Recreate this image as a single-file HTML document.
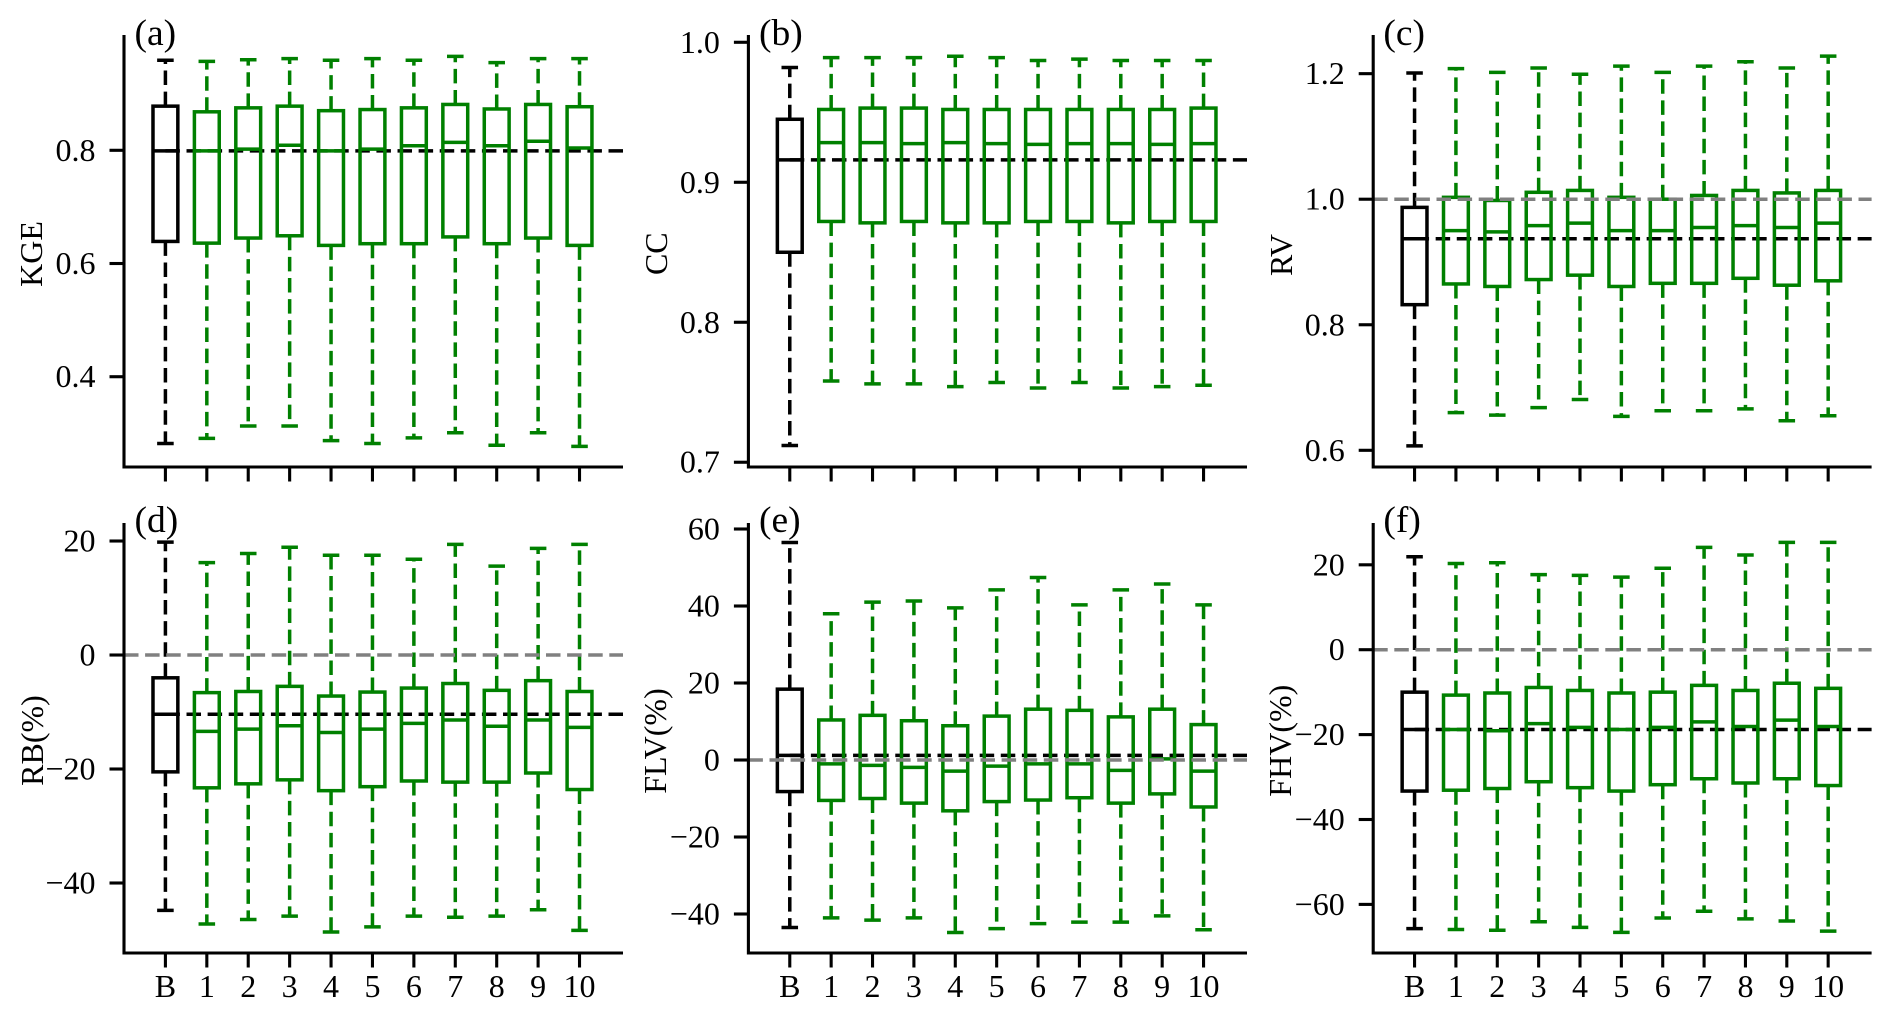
<!DOCTYPE html>
<html lang="en">
<head>
<meta charset="utf-8">
<title>Box plots of KGE, CC, RV, RB, FLV and FHV</title>
<style>
  html, body { margin: 0; padding: 0; background: #fff; }
  svg { display: block; font-family: "Liberation Serif", "Times New Roman", serif; fill: #000; filter: blur(0.35px); }
</style>
</head>
<body>
<svg id="chart" xmlns="http://www.w3.org/2000/svg" width="1892" height="1018" viewBox="0 0 1892 1018">
  <rect x="0" y="0" width="1892" height="1018" fill="#ffffff"></rect>
</svg>
<script>
// Shared x categories
const categories = ['B', '1', '2', '3', '4', '5', '6', '7', '8', '9', '10'];

// (a) KGE
const kgeHigh = [0.959, 0.957, 0.960, 0.962, 0.959, 0.962, 0.959, 0.966, 0.955, 0.962, 0.962];
const kgeQ3 = [0.878, 0.868, 0.875, 0.878, 0.870, 0.872, 0.875, 0.881, 0.873, 0.881, 0.877];
const kgeMedian = [0.799, 0.799, 0.802, 0.809, 0.799, 0.802, 0.808, 0.814, 0.808, 0.816, 0.804];
const kgeQ1 = [0.639, 0.636, 0.645, 0.649, 0.632, 0.635, 0.635, 0.647, 0.635, 0.645, 0.632];
const kgeLow = [0.282, 0.291, 0.313, 0.313, 0.287, 0.282, 0.292, 0.301, 0.279, 0.301, 0.277];
const kgeTicks = [0.8, 0.6, 0.4];
const kgeTickLabels = ['0.8', '0.6', '0.4'];

// (b) CC
const ccHigh = [0.982, 0.989, 0.989, 0.989, 0.990, 0.989, 0.987, 0.988, 0.987, 0.987, 0.987];
const ccQ3 = [0.945, 0.952, 0.953, 0.953, 0.952, 0.952, 0.952, 0.952, 0.952, 0.952, 0.953];
const ccMedian = [0.916, 0.9283, 0.9283, 0.9276, 0.9283, 0.9276, 0.9271, 0.9276, 0.9276, 0.9271, 0.9276];
const ccQ1 = [0.850, 0.872, 0.871, 0.872, 0.871, 0.871, 0.872, 0.872, 0.871, 0.872, 0.872];
const ccLow = [0.712, 0.758, 0.756, 0.756, 0.754, 0.757, 0.753, 0.757, 0.753, 0.754, 0.755];
const ccTicks = [1.0, 0.9, 0.8, 0.7];
const ccTickLabels = ['1.0', '0.9', '0.8', '0.7'];

// (c) RV
const rvHigh = [1.201, 1.208, 1.202, 1.209, 1.199, 1.212, 1.202, 1.212, 1.219, 1.209, 1.228];
const rvQ3 = [0.987, 1.003, 0.998, 1.011, 1.014, 1.003, 1.000, 1.006, 1.014, 1.010, 1.014];
const rvMedian = [0.937, 0.950, 0.948, 0.958, 0.962, 0.950, 0.950, 0.955, 0.958, 0.955, 0.962];
const rvQ1 = [0.832, 0.865, 0.861, 0.872, 0.879, 0.861, 0.866, 0.866, 0.874, 0.863, 0.870];
const rvLow = [0.607, 0.660, 0.656, 0.668, 0.681, 0.654, 0.663, 0.663, 0.666, 0.647, 0.655];
const rvTicks = [1.2, 1.0, 0.8, 0.6];
const rvTickLabels = ['1.2', '1.0', '0.8', '0.6'];

// (d) RB(%)
const rbHigh = [19.8, 16.2, 17.8, 18.9, 17.5, 17.5, 16.8, 19.4, 15.6, 18.7, 19.4];
const rbQ3 = [-4.0, -6.6, -6.4, -5.5, -7.2, -6.5, -5.8, -5.0, -6.2, -4.5, -6.4];
const rbMedian = [-10.4, -13.4, -13.0, -12.4, -13.6, -13.0, -12.0, -11.4, -12.5, -11.4, -12.7];
const rbQ1 = [-20.5, -23.3, -22.6, -21.9, -23.8, -23.1, -22.1, -22.3, -22.3, -20.7, -23.6];
const rbLow = [-44.8, -47.2, -46.4, -45.8, -48.6, -47.7, -45.8, -46.0, -45.8, -44.7, -48.3];
const rbTicks = [20, 0, -20, -40];
const rbTickLabels = ['20', '0', '\u221220', '\u221240'];

// (e) FLV(%)
const flvHigh = [56.5, 38.0, 41.0, 41.3, 39.5, 44.2, 47.4, 40.3, 44.2, 45.7, 40.3];
const flvQ3 = [18.4, 10.4, 11.6, 10.2, 8.9, 11.4, 13.2, 12.9, 11.2, 13.2, 9.2];
const flvMedian = [1.2, -1.0, -1.4, -1.9, -2.9, -1.6, -1.0, -1.0, -2.7, 0.3, -2.9];
const flvQ1 = [-8.2, -10.5, -10.0, -11.2, -13.2, -10.8, -10.4, -9.8, -11.2, -8.8, -12.2];
const flvLow = [-43.5, -41.0, -41.6, -41.0, -44.8, -43.8, -42.5, -42.1, -42.1, -40.5, -44.1];
const flvTicks = [60, 40, 20, 0, -20, -40];
const flvTickLabels = ['60', '40', '20', '0', '\u221220', '\u221240'];

// (f) FHV(%)
const fhvHigh = [21.9, 20.3, 20.5, 17.7, 17.5, 17.1, 19.2, 24.1, 22.3, 25.3, 25.3];
const fhvQ3 = [-10.0, -10.7, -10.2, -8.9, -9.6, -10.2, -10.0, -8.4, -9.6, -7.9, -9.1];
const fhvMedian = [-18.8, -18.8, -19.1, -17.4, -18.3, -18.8, -18.3, -17.0, -18.1, -16.6, -18.1];
const fhvQ1 = [-33.3, -33.1, -32.7, -31.1, -32.5, -33.3, -31.8, -30.4, -31.4, -30.4, -32.0];
const fhvLow = [-65.7, -65.9, -66.1, -64.1, -65.4, -66.6, -63.2, -61.6, -63.4, -63.9, -66.3];
const fhvTicks = [20, 0, -20, -40, -60];
const fhvTickLabels = ['20', '0', '\u221220', '\u221240', '\u221260'];

// Panel layout (frame in pixels, y limits in data units)
const panels = [
  { id: 'kge', letter: '(a)', title: 'KGE', high: kgeHigh, q3: kgeQ3, median: kgeMedian, q1: kgeQ1, low: kgeLow, ticks: kgeTicks, tickLabels: kgeTickLabels,
    left: 124, right: 623, top: 35, bottom: 467, ylim: [0.2405, 1.0037], ref: null, labelX: 42, labelY: 254, letterX: 134.5, letterY: 45, showX: false },
  { id: 'cc', letter: '(b)', title: 'CC', high: ccHigh, q3: ccQ3, median: ccMedian, q1: ccQ1, low: ccLow, ticks: ccTicks, tickLabels: ccTickLabels,
    left: 748.4, right: 1247, top: 35, bottom: 467, ylim: [0.6966, 1.0052], ref: null, labelX: 667, labelY: 253.7, letterX: 759, letterY: 45, showX: false },
  { id: 'rv', letter: '(c)', title: 'RV', high: rvHigh, q3: rvQ3, median: rvMedian, q1: rvQ1, low: rvLow, ticks: rvTicks, tickLabels: rvTickLabels,
    left: 1373.2, right: 1871.6, top: 35, bottom: 467, ylim: [0.5734, 1.2616], ref: 1, labelX: 1292, labelY: 255, letterX: 1383.4, letterY: 45, showX: false },
  { id: 'rb', letter: '(d)', title: 'RB(%)', high: rbHigh, q3: rbQ3, median: rbMedian, q1: rbQ1, low: rbLow, ticks: rbTicks, tickLabels: rbTickLabels,
    left: 124, right: 623, top: 523, bottom: 953, ylim: [-52.28, 23.16], ref: 0, labelX: 43, labelY: 740.5, letterX: 134.5, letterY: 532, showX: true },
  { id: 'flv', letter: '(e)', title: 'FLV(%)', high: flvHigh, q3: flvQ3, median: flvMedian, q1: flvQ1, low: flvLow, ticks: flvTicks, tickLabels: flvTickLabels,
    left: 748.4, right: 1247, top: 523, bottom: 953, ylim: [-50.13, 61.56], ref: 0, labelX: 666, labelY: 741, letterX: 759, letterY: 532, showX: true },
  { id: 'fhv', letter: '(f)', title: 'FHV(%)', high: fhvHigh, q3: fhvQ3, median: fhvMedian, q1: fhvQ1, low: fhvLow, ticks: fhvTicks, tickLabels: fhvTickLabels,
    left: 1373.2, right: 1871.6, top: 523, bottom: 953, ylim: [-71.45, 29.85], ref: 0, labelX: 1291, labelY: 740.7, letterX: 1383.4, letterY: 532, showX: true }
];

const NS = 'http://www.w3.org/2000/svg';
const root = document.getElementById('chart');
const GREEN = '#008000';
const BLACK = '#000000';
const GRAY = '#808080';
const XMAX_UNITS = 12.05;
const STROKE = 3.5;
const AXIS_STROKE = 3.1;
const TICK_LEN = 14.5;
const BOX_WIDTH = 0.6;
const CAP_WIDTH = 0.4;
const DASH = '14.5 6.6';
const TEXT_SIZE = 32;

function makeXScale(p) {
  const unit = (p.right - p.left) / XMAX_UNITS;
  return function (pos) { return p.left + pos * unit; };
}
function makeYScale(p) {
  const span = p.ylim[1] - p.ylim[0];
  return function (v) { return p.bottom - (v - p.ylim[0]) / span * (p.bottom - p.top); };
}
function makeLine(parent, x1, y1, x2, y2, color, width, dash) {
  const l = document.createElementNS(NS, 'line');
  l.setAttribute('x1', x1);
  l.setAttribute('y1', y1);
  l.setAttribute('x2', x2);
  l.setAttribute('y2', y2);
  l.setAttribute('stroke', color);
  l.setAttribute('stroke-width', width);
  if (dash) l.setAttribute('stroke-dasharray', dash);
  parent.appendChild(l);
  return l;
}
function makeText(parent, x, y, str, size, anchor) {
  const t = document.createElementNS(NS, 'text');
  t.setAttribute('x', x);
  t.setAttribute('y', y);
  t.setAttribute('font-size', size);
  t.setAttribute('text-anchor', anchor);
  t.textContent = str;
  parent.appendChild(t);
  return t;
}

panels.forEach(function (p) {
  const x = makeXScale(p);
  const y = makeYScale(p);
  const unit = x(1) - x(0);

  const g = document.createElementNS(NS, 'g');
  
  
  root.appendChild(g);

  // Benchmark median reference line, drawn beneath the boxes
  const medianLine = makeLine(g, x(1), y(p.median[0]), p.right, y(p.median[0]), BLACK, STROKE, DASH);
  
  

  // Boxes and whiskers
  categories.forEach(function (cat, i) {
    const color = i === 0 ? BLACK : GREEN;
    const cx = x(i + 1);

    const box = document.createElementNS(NS, 'g');
    
    
    g.appendChild(box);

    const upper = makeLine(box, cx, y(p.q3[i]), cx, y(p.high[i]), color, STROKE, DASH);
    
    

    const lower = makeLine(box, cx, y(p.q1[i]), cx, y(p.low[i]), color, STROKE, DASH);
    
    

    const capHigh = makeLine(box, cx - CAP_WIDTH * unit / 2, y(p.high[i]), cx + CAP_WIDTH * unit / 2, y(p.high[i]), color, STROKE);
    
    

    const capLow = makeLine(box, cx - CAP_WIDTH * unit / 2, y(p.low[i]), cx + CAP_WIDTH * unit / 2, y(p.low[i]), color, STROKE);
    
    

    const rect = document.createElementNS(NS, 'rect');
    rect.setAttribute('x', cx - BOX_WIDTH * unit / 2);
    rect.setAttribute('y', y(p.q3[i]));
    rect.setAttribute('width', BOX_WIDTH * unit);
    rect.setAttribute('height', y(p.q1[i]) - y(p.q3[i]));
    rect.setAttribute('fill', 'none');
    rect.setAttribute('stroke', color);
    rect.setAttribute('stroke-width', STROKE);
    
    
    box.appendChild(rect);

    const med = makeLine(box, cx - BOX_WIDTH * unit / 2, y(p.median[i]), cx + BOX_WIDTH * unit / 2, y(p.median[i]), color, STROKE);
    
    
  });

  // Ideal value reference line
  if (p.ref !== null) {
    const refLine = makeLine(g, p.left, y(p.ref), p.right, y(p.ref), GRAY, STROKE, DASH);
    
    
  }

  // Spines
  const leftSpine = makeLine(g, p.left, p.top, p.left, p.bottom + AXIS_STROKE / 2, BLACK, AXIS_STROKE);
  
  

  const bottomSpine = makeLine(g, p.left, p.bottom, p.right, p.bottom, BLACK, AXIS_STROKE);
  
  

  // Y ticks
  p.ticks.forEach(function (v, i) {
    const tick = makeLine(g, p.left - TICK_LEN, y(v), p.left, y(v), BLACK, AXIS_STROKE);
    
    

    const label = makeText(g, p.left - 28.5, y(v) + 10.5, p.tickLabels[i], TEXT_SIZE, 'end');
    
    
  });

  // X ticks
  categories.forEach(function (cat, i) {
    const tick = makeLine(g, x(i + 1), p.bottom, x(i + 1), p.bottom + TICK_LEN, BLACK, AXIS_STROKE);
    
    

    if (p.showX) {
      const label = makeText(g, x(i + 1), 996.8, cat, TEXT_SIZE, 'middle');
      
      
    }
  });

  // Y axis title
  const yTitle = makeText(g, p.labelX, p.labelY, p.title, TEXT_SIZE, 'middle');
  yTitle.setAttribute('transform', 'rotate(-90 ' + p.labelX + ' ' + p.labelY + ')');
  
  

  // Panel letter
  const letter = makeText(g, p.letterX, p.letterY, p.letter, 37.5, 'start');
  
  
});
</script>
</body>
</html>
